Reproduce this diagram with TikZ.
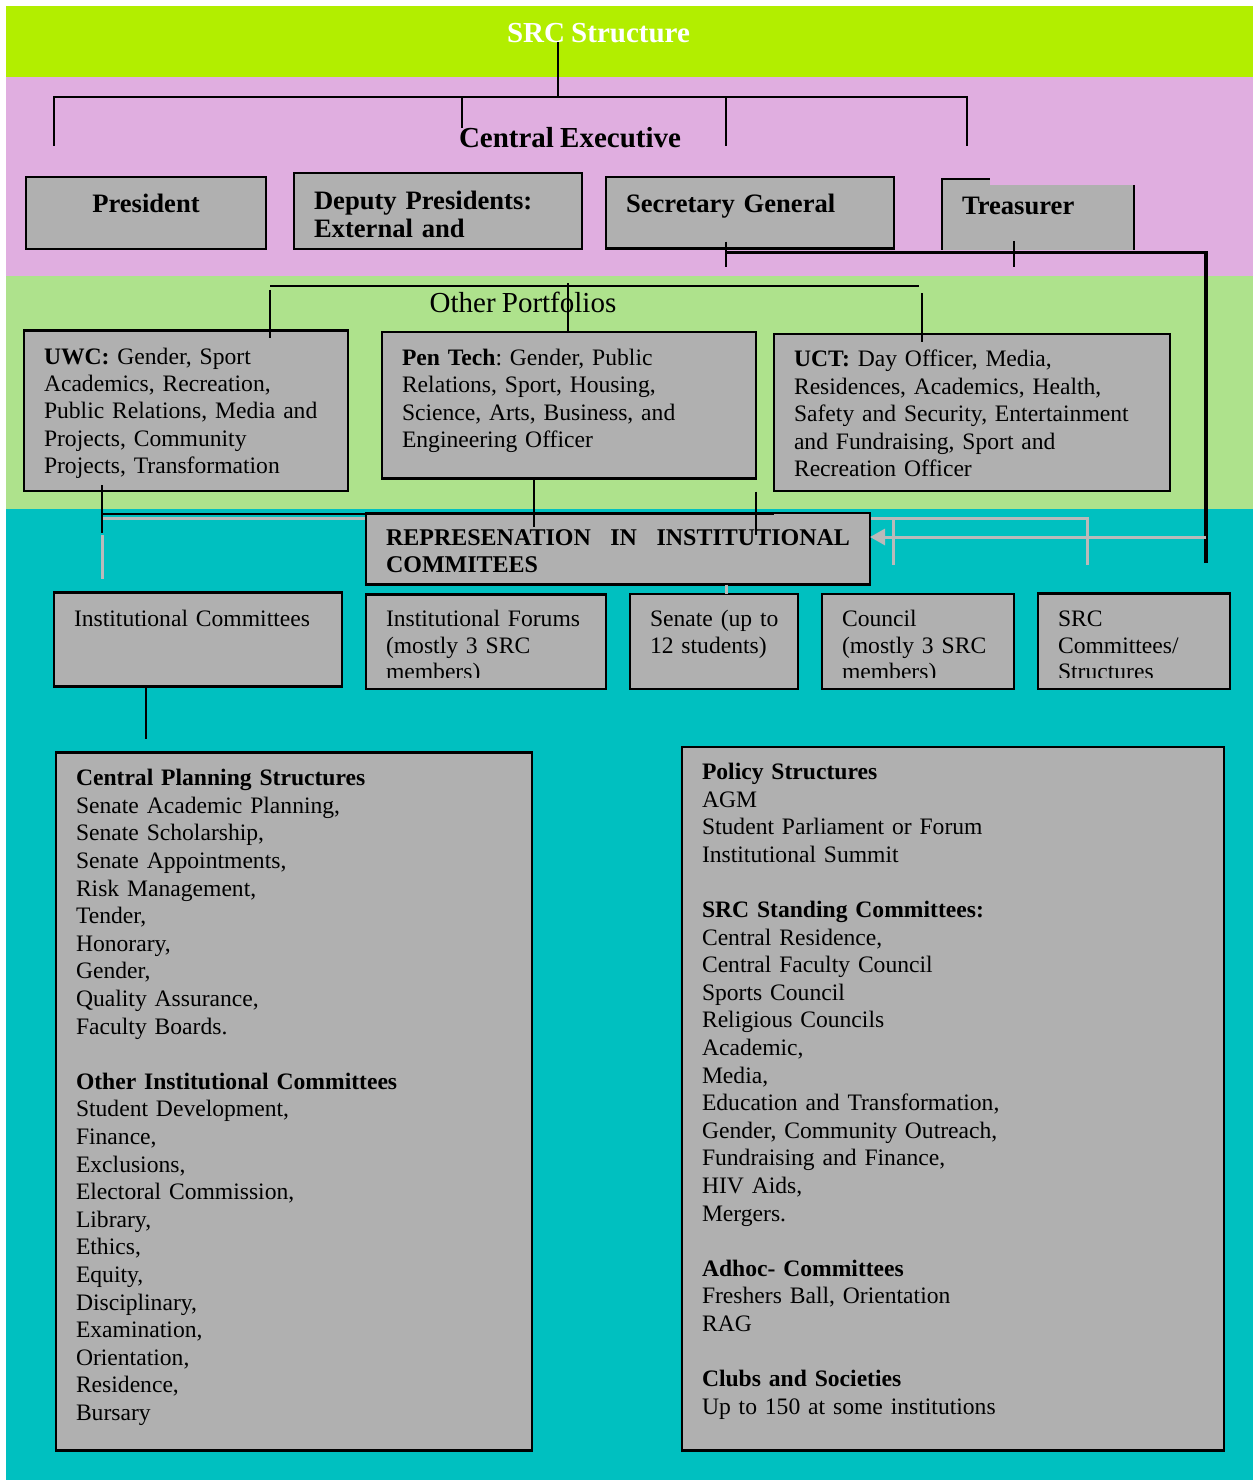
\documentclass[tikz,border=0pt]{standalone}
\usepackage{fontspec}
\setmainfont{Liberation Serif}[WordSpace=0.85]
\usetikzlibrary{arrows.meta}

\definecolor{limeband}{RGB}{178,238,0}
\definecolor{pinkband}{RGB}{224,174,224}
\definecolor{greenband}{RGB}{174,226,140}
\definecolor{tealband}{RGB}{0,192,192}
\definecolor{boxgray}{RGB}{176,176,176}
\definecolor{linegray}{RGB}{186,186,186}

\begin{document}
\frenchspacing
\begin{tikzpicture}[x=0.5pt,y=-0.5pt]
  \tikzstyle{Box}=[draw=black,line width=1.1pt,fill=boxgray,anchor=north west,
                   align=left,inner xsep=10pt,inner ysep=0pt,outer sep=0pt,
                   font=\fontsize{11.8}{13.8}\selectfont]
  \tikzstyle{HeadBox}=[Box,font=\fontsize{13.3}{14}\selectfont\bfseries]
  \tikzstyle{SmallBox}=[Box,font=\fontsize{11.8}{13.3}\selectfont]
  \tikzstyle{Heading}=[anchor=base,inner sep=0pt,font=\fontsize{14.5}{17}\selectfont\bfseries]
  \tikzstyle{Link}=[black,line width=1pt]
  \tikzstyle{ThickLink}=[black,line width=1.7pt]
  \tikzstyle{GreyLink}=[linegray,line width=1.5pt]

  % colour bands
  \useasboundingbox (0,0) rectangle (1253,1482);
  \fill[white] (0,0) rectangle (1253,1482);
  \fill[limeband] (6,6) rectangle (1253,77.5);
  \fill[pinkband] (6,77.5) rectangle (1253,275.5);
  \fill[greenband] (6,275.5) rectangle (1253,509);
  \fill[tealband] (6,509) rectangle (1253,1480);

  % headings
  \node[Heading,text=white] (Title) at (598.5,42.7) {SRC Structure};
  \node[Heading] (CentralExec) at (570,147.7) {Central Executive};
  \node[Heading,font=\fontsize{14.5}{17}\selectfont] (Portfolios) at (523,312) {Other Portfolios};

  % central executive
  \node[HeadBox,align=center,text width=100pt,text height=17.85pt,text depth=18.15pt]
    (President) at (26,177) {President};
  \node[HeadBox,text width=124pt,text height=18.5pt,text depth=19.5pt]
    (Deputy) at (294,173) {Deputy Presidents:\\External and};
  \node[HeadBox,text width=124pt,text height=17.65pt,text depth=18.1pt]
    (Secretary) at (606,177) {Secretary General};
  \fill[boxgray] (942,179) rectangle (990,185);
  \node[HeadBox,draw=none,text width=76pt,text height=15pt,text depth=17.5pt]
    (Treasurer) at (942,185) {Treasurer};
  \draw[line width=1.1pt] (Treasurer.south west) -- (942,179) -- (990,179);
  \draw[line width=1.1pt] (Treasurer.north east) -- (Treasurer.south east);

  % other portfolios
  \node[Box,text width=142pt,text height=16.9pt,text depth=63.35pt,
        font=\fontsize{11.8}{13.65}\selectfont]
    (UWC) at (24,330.5) {\textbf{UWC:} Gender, Sport\\Academics, Recreation,\\Public Relations, Media and\\Projects, Community\\Projects, Transformation};
  \node[Box,text width=167pt,text height=16.5pt,text depth=56.75pt,
        font=\fontsize{11.8}{13.75}\selectfont]
    (PenTech) at (382,332) {\textbf{Pen Tech}: Gender, Public\\Relations, Sport, Housing,\\Science, Arts, Business, and\\Engineering Officer};
  \node[Box,text width=178pt,text height=16.35pt,text depth=62.15pt,
        font=\fontsize{11.8}{13.75}\selectfont]
    (UCT) at (774,334) {\textbf{UCT:} Day Officer, Media,\\Residences, Academics, Health,\\Safety and Security, Entertainment\\and Fundraising, Sport and\\Recreation Officer};

  % grey links behind the representation box
  \coordinate (g1) at (102.3,518);
  \coordinate (g2) at (1087,518);
  \coordinate (g3) at (1087,565);
  \coordinate (g4) at (893.5,518);
  \coordinate (g5) at (893.5,565);
  \coordinate (g6) at (102.3,535);
  \coordinate (g7) at (102.3,579);
  \draw[GreyLink] (g1) -- (g2) -- (g3);
  \draw[GreyLink] (g4) -- (g5);
  \draw[GreyLink] (g6) -- (g7);

  % representation
  \node[Box,text width=232pt,text height=16pt,text depth=19.75pt,
        font=\fontsize{12}{13.6}\selectfont\bfseries]
    (Repr) at (366,513) {REPRESENATION\hfill IN\hfill INSTITUTIONAL\\COMMITEES};

  \node[SmallBox,text width=124pt,text height=17.1pt,text depth=29.9pt]
    (InstComm) at (54,592.5) {Institutional Committees};
  \node[SmallBox,text width=100pt,text height=16.1pt,text depth=31.15pt]
    (Forums) at (366,594.5) {Institutional Forums\\(mostly 3 SRC\\members)};
  \node[SmallBox,text width=64pt,text height=16.35pt,text depth=31.15pt]
    (Senate) at (630,594) {\mbox{Senate (up to}\\12 students)};
  \node[SmallBox,text width=76pt,text height=16.35pt,text depth=31.15pt]
    (Council) at (822,594) {Council\\(mostly 3 SRC\\members)};
  \node[SmallBox,text width=76pt,text height=16.6pt,text depth=31.15pt]
    (SRCComm) at (1038,593.5) {SRC\\Committees/\\Structures};
  % cut off last lines
  \fill[boxgray] (367.5,678) rectangle (604.5,687.8);
  \fill[boxgray] (823.5,678) rectangle (1012.5,687.8);
  \fill[boxgray] (1039.5,678) rectangle (1228.5,687.8);

  % lists
  \node[Box,text width=218pt,text height=16.6pt,text depth=332.4pt]
    (Planning) at (56,752.5) {\textbf{Central Planning Structures}\\
      Senate Academic Planning,\\
      Senate Scholarship,\\
      Senate Appointments,\\
      Risk Management,\\
      Tender,\\
      Honorary,\\
      Gender,\\
      Quality Assurance,\\
      Faculty Boards.\\[13.8pt]
      \textbf{Other Institutional Committees}\\
      Student Development,\\
      Finance,\\
      Exclusions,\\
      Electoral Commission,\\
      Library,\\
      Ethics,\\
      Equity,\\
      Disciplinary,\\
      Examination,\\
      Orientation,\\
      Residence,\\
      Bursary};
  \node[Box,text width=251pt,text height=16.25pt,text depth=335.5pt]
    (Policy) at (682,747) {\textbf{Policy Structures}\\
      AGM\\
      Student Parliament or Forum\\
      Institutional Summit\\[13.8pt]
      \textbf{SRC Standing Committees:}\\
      Central Residence,\\
      Central Faculty Council\\
      Sports Council\\
      Religious Councils\\
      Academic,\\
      Media,\\
      Education and Transformation,\\
      Gender, Community Outreach,\\
      Fundraising and Finance,\\
      HIV Aids,\\
      Mergers.\\[13.8pt]
      \textbf{Adhoc- Committees}\\
      Freshers Ball, Orientation\\
      RAG\\[13.8pt]
      \textbf{Clubs and Societies}\\
      Up to 150 at some institutions};

  % executive bracket
  \coordinate (TitleFoot) at (558,42);
  \coordinate (ExecBar) at (558,96.7);
  \coordinate (ExecL) at (54,145.7);
  \coordinate (ExecR) at (967,145.7);
  \coordinate (ExecD) at (462,127.7);
  \coordinate (ExecS) at (725.6,145.7);
  \draw[Link] (TitleFoot) -- (ExecBar);
  \draw[Link] (ExecL) |- (ExecBar) -| (ExecR);
  \draw[Link] (ExecD) -- (ExecD |- ExecBar);
  \draw[Link] (ExecS) -- (ExecS |- ExecBar);

  % secretary / treasurer link
  \coordinate (SecTop) at (725.6,241.7);
  \coordinate (SecFoot) at (725.6,266.7);
  \coordinate (TreTop) at (1014,241);
  \coordinate (TreFoot) at (1014,266.7);
  \coordinate (Corner) at (1206,252.3);
  \coordinate (RightEnd) at (1206,563);
  \draw[Link] (SecTop) -- (SecFoot);
  \draw[Link] (TreTop) -- (TreFoot);
  \draw[ThickLink] (SecTop |- Corner) -- (Corner) -- (RightEnd);

  % portfolio bracket
  \coordinate (PortL) at (270,285.7);
  \coordinate (PortR) at (919,285.7);
  \coordinate (PortM) at (567.5,283);
  \coordinate (PortU) at (921.7,293);
  \draw[Link] (PortL) -- (PortR);
  \draw[Link] (270,290) -- (270,338);
  \draw[Link] (PortM) -- (PortM |- PenTech.north);
  \draw[Link] (PortU) -- (921.7,342);

  % links to the representation box
  \coordinate (UwcFoot) at (102.3,533);
  \coordinate (ReprBar) at (774,514);
  \coordinate (PenFoot) at (534,527);
  \coordinate (UctTop) at (755.5,491.5);
  \coordinate (UctFoot) at (755.5,535);
  \coordinate (SenTop) at (726,594);
  \draw[Link] (102.3,485) -- (UwcFoot);
  \draw[Link] (UwcFoot |- ReprBar) -- (ReprBar);
  \draw[Link] (PenFoot |- PenTech.south) -- (PenFoot);
  \draw[Link] (UctTop) -- (UctFoot);
  \draw[GreyLink] (Repr.south -| SenTop) -- (SenTop);

  \coordinate (ArrowStart) at (1206,537);
  \draw[GreyLink,-{Triangle[length=7.5pt,width=8pt]}] (ArrowStart) -- (Repr.east |- ArrowStart);

  % down to the lists
  \coordinate (CommFoot) at (145.5,738.5);
  \draw[Link] (InstComm.south -| CommFoot) -- (CommFoot);
  \draw[Link] (SRCComm.south -| 1110,0) -- (SRCComm.south -| 1110,0 |- Policy.north);
\end{tikzpicture}
\end{document}
